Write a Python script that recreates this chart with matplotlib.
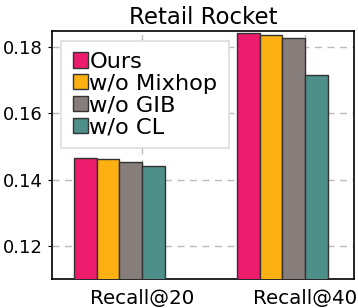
import numpy as np
import matplotlib.pyplot as plt

# data
groups = ["Recall@20", "Recall@40"]
labels = ["Ours", "w/o Mixhop", "w/o GIB", "w/o CL"]
ours = [0.1464, 0.1842]
mixhop = [0.1461, 0.1835]
gib = [0.1454, 0.1828]
cl = [0.1442, 0.1716]
colors = ["#EC1B6B", "#FDB012", "#877D7A", "#4E8F8A"]

series = [ours, mixhop, gib, cl]
x = np.arange(len(groups))
w = 0.139

fig, ax = plt.subplots(figsize=(3.58, 3.08), dpi=100)
fig.subplots_adjust(left=0.145, right=0.989, top=0.899, bottom=0.094)

for i, (vals, lab, c) in enumerate(zip(series, labels, colors)):
    ax.bar(x + (i - 2.5) * w, vals, w, color=c, edgecolor="#333333",
           linewidth=1.0, label=lab, zorder=3)

ax.set_xticks(x)
ax.set_xticklabels(groups)
ax.set_xlim(-0.552, 1.30)
ax.set_ylim(0.11, 0.1848)
ax.set_yticks([0.12, 0.14, 0.16, 0.18])
ax.grid(True, linestyle=(0, (5, 4)), color="#bbbbbb", linewidth=1.0, zorder=0)
ax.tick_params(axis="y", labelsize=13, length=3, pad=3.5)
ax.tick_params(axis="x", labelsize=14.3, length=0, pad=7)
for s in ax.spines.values():
    s.set_linewidth(1.2)
ax.set_title("Retail Rocket", fontsize=16.5, pad=5)

leg = ax.legend(loc="upper left", fontsize=16.2, handlelength=0.68, handleheight=0.68,
                handletextpad=0.06, labelspacing=0.08, borderpad=0.5,
                borderaxespad=0.42, fancybox=False, framealpha=1)
leg.get_frame().set_edgecolor("#dddddd")
leg.get_frame().set_linewidth(1.2)

fig.savefig("out.png", dpi=100)
